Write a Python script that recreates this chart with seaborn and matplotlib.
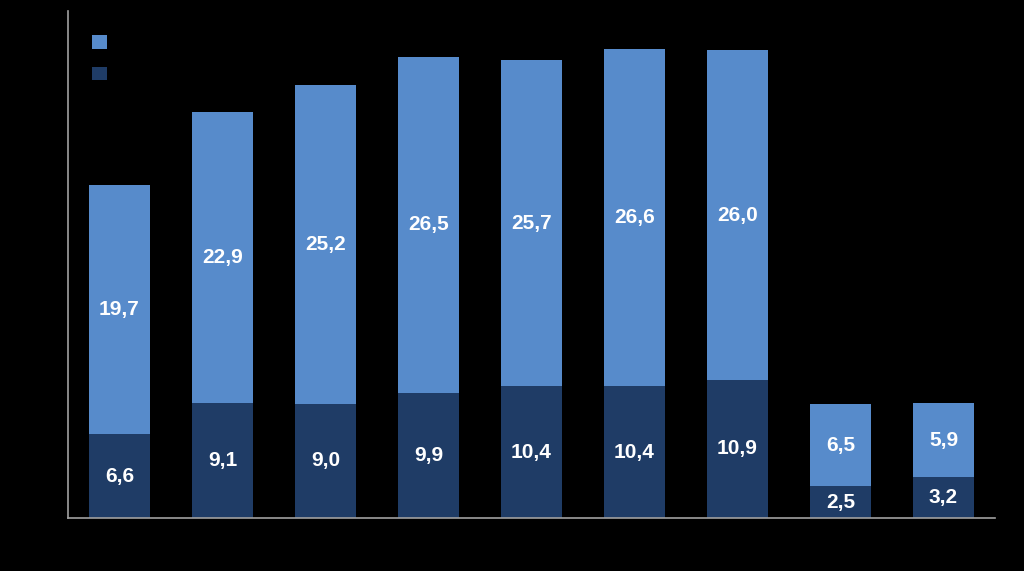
import matplotlib
matplotlib.use("Agg")
import matplotlib.pyplot as plt
import seaborn as sns
import pandas as pd

categories = ["1", "2", "3", "4", "5", "6", "7", "8", "9"]
dark_values = [6.6, 9.1, 9.0, 9.9, 10.4, 10.4, 10.9, 2.5, 3.2]
light_values = [19.7, 22.9, 25.2, 26.5, 25.7, 26.6, 26.0, 6.5, 5.9]
series_labels = [" ", " "]

light_color = "#578BCB"
dark_color = "#1F3C66"

sns.set_theme(style="white")
plt.rcParams['font.family'] = ['Liberation Sans', 'DejaVu Sans']

df = pd.DataFrame({"cat": categories, "dark": dark_values, "light": light_values})

fig = plt.figure(figsize=(10.24, 5.71), dpi=100, facecolor="black")
ax = fig.add_axes([68/1024, 1 - 518/571, (995-68)/1024, (518-11)/571])
ax.set_facecolor("black")

sns.barplot(data=df, x="cat", y="dark", color=dark_color, width=0.59,
            saturation=1, ax=ax, label=series_labels[1], linewidth=0)
sns.barplot(data=df, x="cat", y="light", bottom=df["dark"], color=light_color,
            width=0.59, saturation=1, ax=ax, label=series_labels[0], linewidth=0)

for i, (d, l) in enumerate(zip(dark_values, light_values)):
    ax.text(i, d / 2, f"{d:.1f}".replace(".", ","), ha="center", va="center",
            color="white", fontsize=15, fontweight="bold")
    ax.text(i, d + l / 2, f"{l:.1f}".replace(".", ","), ha="center", va="center",
            color="white", fontsize=15, fontweight="bold")

ax.set_xlim(-0.5, 8.5)
ax.set_ylim(0, 40)
ax.set_xlabel("")
ax.set_ylabel("")
ax.set_xticks([])
ax.set_yticks([])
for s in ["top", "right"]:
    ax.spines[s].set_visible(False)
for s in ["left", "bottom"]:
    ax.spines[s].set_color("#A0A0A0")
    ax.spines[s].set_linewidth(1.2)

handles, labels = ax.get_legend_handles_labels()
leg = ax.legend(handles[::-1], labels[::-1], loc="upper left",
                bbox_to_anchor=(0.01, 0.982), frameon=False,
                handlelength=0.9, handleheight=0.9, labelspacing=0.95,
                labelcolor="black", fontsize=12)

fig.savefig("out.png", dpi=100, facecolor="black")
